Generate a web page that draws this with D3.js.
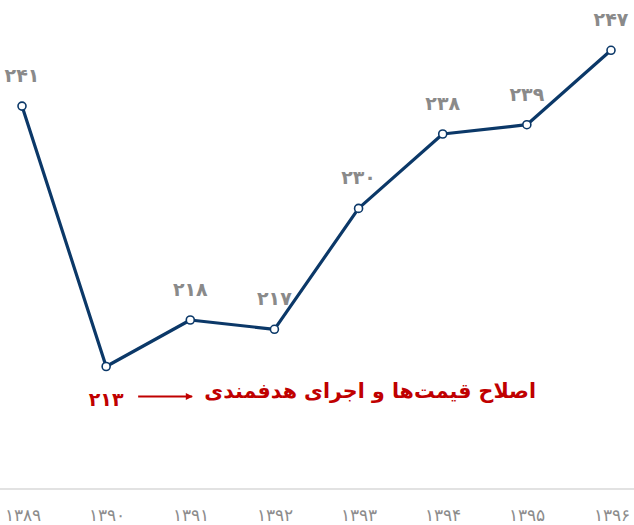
<!DOCTYPE html>
<html><head><meta charset="utf-8">
<script src="https://cdn.jsdelivr.net/npm/d3@7"></script>
<style>body{margin:0;background:#fff}svg{display:block}</style>
</head><body>
<svg id="c" width="634" height="525"></svg>
<script>
const years = ["۱۳۸۹","۱۳۹۰","۱۳۹۱","۱۳۹۲","۱۳۹۳","۱۳۹۴","۱۳۹۵","۱۳۹۶"];
const values = [241, 213, 218, 217, 230, 238, 239, 247];
const valueLabels = ["۲۴۱","۲۱۳","۲۱۸","۲۱۷","۲۳۰","۲۳۸","۲۳۹","۲۴۷"];
const annotationText = "اصلاح قیمت‌ها و اجرای هدفمندی";
const highlightIndex = 1;

const svg = d3.select("#c");
const W = 634, H = 525;
const x = d3.scalePoint().domain(years).range([22, 611]);
const y = d3.scaleLinear().domain([200, 250]).range([487.4, 22.4]);

// axis baseline
const axis = d3.axisBottom(x).tickSize(0).tickPadding(20);
const gx = svg.append("g").attr("transform", `translate(0,${y(200)+1.5})`).call(axis);
gx.select(".domain").remove();
gx.append("line").attr("x1", 0).attr("x2", W).attr("y1", 0).attr("y2", 0)
  .attr("stroke", "#d9d9d9").attr("stroke-width", 1.5);
gx.selectAll(".tick text").attr("fill", "#8c8c8c")
  .style("font-family", "'DejaVu Sans'").style("font-weight", 200).style("font-size", "17px");

const line = d3.line().x((d,i)=>x(years[i])).y(d=>y(d));
svg.append("path").datum(values).attr("d", line)
  .attr("fill","none").attr("stroke","#0b3868").attr("stroke-width",3.2)
  .attr("stroke-linejoin","round");

svg.selectAll("circle.pt").data(values).join("circle").attr("class","pt")
  .attr("cx",(d,i)=>x(years[i])).attr("cy",d=>y(d)).attr("r",4)
  .attr("fill","#fff").attr("stroke","#0b3868").attr("stroke-width",1.6);

svg.selectAll("text.vl").data(values).join("text").attr("class","vl")
  .attr("x",(d,i)=>x(years[i]))
  .attr("y",(d,i)=> i===highlightIndex ? y(d)+39 : y(d)-24)
  .attr("text-anchor","middle")
  .attr("fill",(d,i)=> i===highlightIndex ? "#c00000" : "#8a8a8a")
  .style("font-family","'DejaVu Sans'").style("font-weight","bold").style("font-size","19px")
  .text((d,i)=>valueLabels[i]);

// annotation arrow and text
const ay = y(values[highlightIndex]) + 30;
const ax0 = x(years[highlightIndex]) + 32, ax1 = x(years[highlightIndex]) + 86;
svg.append("defs").append("marker").attr("id","ah").attr("viewBox","0 0 10 10")
  .attr("refX",9).attr("refY",5).attr("markerWidth",4).attr("markerHeight",3.5).attr("orient","auto")
  .append("path").attr("d","M0,0L10,5L0,10z").attr("fill","#c00000");
svg.append("line").attr("x1",ax0).attr("x2",ax1).attr("y1",ay).attr("y2",ay)
  .attr("stroke","#c00000").attr("stroke-width",2).attr("marker-end","url(#ah)");
svg.append("text").attr("x", 536).attr("y", ay+1).attr("text-anchor","start")
  .attr("direction","rtl")
  .attr("fill","#c00000").style("font-family","'DejaVu Sans'").style("font-weight","bold")
  .style("font-size","20.6px").text(annotationText);
</script>
</body></html>
